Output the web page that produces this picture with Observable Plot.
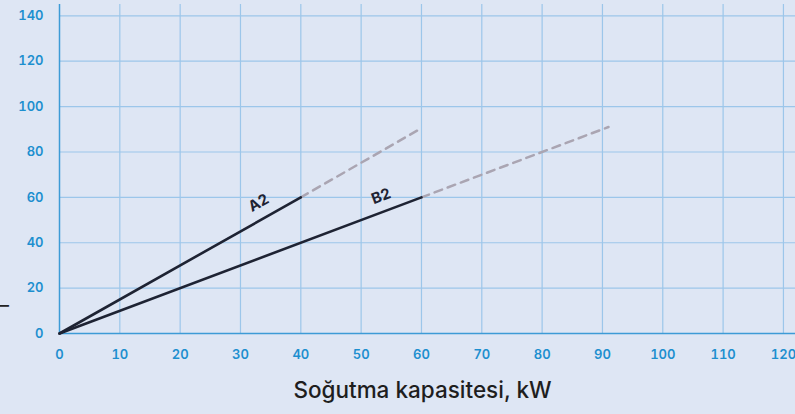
<!DOCTYPE html>
<html><head><meta charset="utf-8">
<script src="https://cdn.jsdelivr.net/npm/d3@7"></script>
<script src="https://cdn.jsdelivr.net/npm/@observablehq/plot@0.6"></script>
<style>
html,body{margin:0;padding:0;background:#dee6f4;}
#wrap{position:relative;width:795px;height:414px;overflow:hidden;}
#dash{position:absolute;left:-1px;top:293px;font:20px Inter, sans-serif;color:#222;}
</style></head>
<body><div id="wrap"><span id="dash">–</span></div>
<script>
const xTicks = [0,10,20,30,40,50,60,70,80,90,100,110,120];
const yTicks = [0,20,40,60,80,100,120,140];
const xTitle = "Soğutma kapasitesi, kW";

// solid segments (rated range)
const a2SolidX = [0, 40], a2SolidY = [0, 60];
const b2SolidX = [0, 60], b2SolidY = [0, 60];
// dashed extensions
const a2DashX = [40, 60], a2DashY = [60, 90.5];
const b2DashX = [60, 91], b2DashY = [60, 91];
// labels
const labelNames = ["A2", "B2"];
const labelX = [33, 53.3];
const labelY = [57.5, 60.5];
const labelAngle = [-29.4, -20.6];

const mk = (xs, ys, s) => xs.map((x, i) => ({x, y: ys[i], s}));
const solid = [...mk(a2SolidX, a2SolidY, "A2"), ...mk(b2SolidX, b2SolidY, "B2")];
const dashed = [...mk(a2DashX, a2DashY, "A2"), ...mk(b2DashX, b2DashY, "B2")];
const labels = labelNames.map((n, i) => ({n, x: labelX[i], y: labelY[i], r: labelAngle[i]}));

const chart = Plot.plot({
  width: 795, height: 414,
  marginLeft: 59, marginRight: 0, marginTop: 4, marginBottom: 81,
  style: {background: "transparent", fontFamily: "Inter, sans-serif"},
  x: {domain: [0, 122]},
  y: {domain: [0, 145]},
  marks: [
    Plot.gridX(xTicks.slice(1), {stroke: "#9cc6ea", strokeOpacity: 1, strokeWidth: 1.2}),
    Plot.gridY(yTicks.slice(1), {stroke: "#9cc6ea", strokeOpacity: 1, strokeWidth: 1.2}),
    Plot.ruleX([0], {stroke: "#3d9bd6", strokeWidth: 1.5}),
    Plot.ruleY([0], {stroke: "#3d9bd6", strokeWidth: 1.5}),
    Plot.axisX(xTicks, {tickSize: 0, tickPadding: 16, fill: "#1d8fcf", fontSize: 13, fontWeight: 600, label: null}),
    Plot.axisY(yTicks, {tickSize: 0, tickPadding: 16, fill: "#1d8fcf", fontSize: 13, fontWeight: 600, label: null}),
    Plot.line(dashed, {x: "x", y: "y", z: "s", stroke: "#aaa5b2", strokeWidth: 2.5, strokeDasharray: "8,6"}),
    Plot.line(solid, {x: "x", y: "y", z: "s", stroke: "#1e2333", strokeWidth: 2.6}),
    Plot.text(labels, {x: "x", y: "y", text: "n", rotate: "r", fill: "#1e2333", fontSize: 15, fontWeight: 700}),
    Plot.text([xTitle], {frameAnchor: "bottom", dy: 64, dx: -5, fontSize: 22.5, fill: "#1e1e1e", fontWeight: 500})
  ]
});
document.getElementById("wrap").appendChild(chart);
</script></body></html>
